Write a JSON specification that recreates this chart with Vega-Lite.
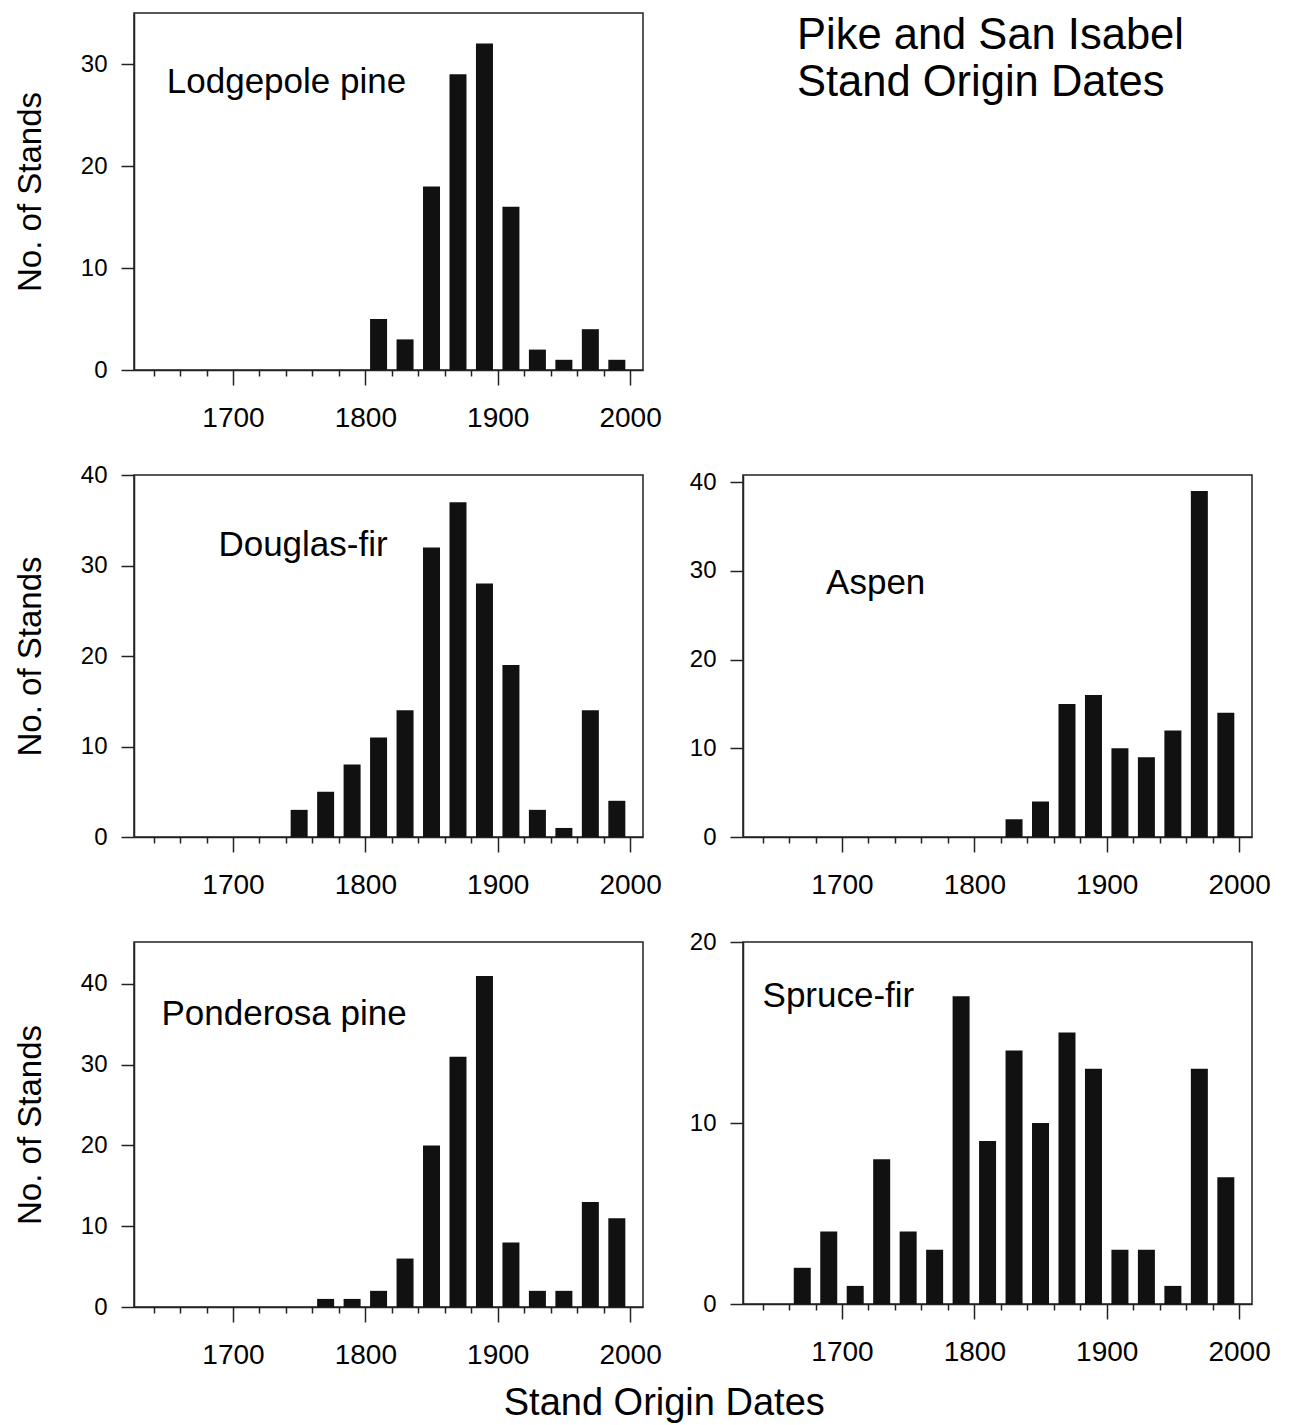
{
  "$schema": "https://vega.github.io/schema/vega-lite/v6.json",
  "background": "white",
  "padding": {"top": 12, "left": 13, "right": 10, "bottom": 5},
  "title": {"text": "Stand Origin Dates", "orient": "bottom", "anchor": "middle", "fontSize": 38, "fontWeight": "normal", "offset": 15, "dx": 22, "color": "black", "font": "Liberation Sans"},
  "datasets": {
    "stands": [
      {"species": "Lodgepole pine", "year": 1810, "count": 5},
      {"species": "Lodgepole pine", "year": 1830, "count": 3},
      {"species": "Lodgepole pine", "year": 1850, "count": 18},
      {"species": "Lodgepole pine", "year": 1870, "count": 29},
      {"species": "Lodgepole pine", "year": 1890, "count": 32},
      {"species": "Lodgepole pine", "year": 1910, "count": 16},
      {"species": "Lodgepole pine", "year": 1930, "count": 2},
      {"species": "Lodgepole pine", "year": 1950, "count": 1},
      {"species": "Lodgepole pine", "year": 1970, "count": 4},
      {"species": "Lodgepole pine", "year": 1990, "count": 1},
      {"species": "Douglas-fir", "year": 1750, "count": 3},
      {"species": "Douglas-fir", "year": 1770, "count": 5},
      {"species": "Douglas-fir", "year": 1790, "count": 8},
      {"species": "Douglas-fir", "year": 1810, "count": 11},
      {"species": "Douglas-fir", "year": 1830, "count": 14},
      {"species": "Douglas-fir", "year": 1850, "count": 32},
      {"species": "Douglas-fir", "year": 1870, "count": 37},
      {"species": "Douglas-fir", "year": 1890, "count": 28},
      {"species": "Douglas-fir", "year": 1910, "count": 19},
      {"species": "Douglas-fir", "year": 1930, "count": 3},
      {"species": "Douglas-fir", "year": 1950, "count": 1},
      {"species": "Douglas-fir", "year": 1970, "count": 14},
      {"species": "Douglas-fir", "year": 1990, "count": 4},
      {"species": "Aspen", "year": 1830, "count": 2},
      {"species": "Aspen", "year": 1850, "count": 4},
      {"species": "Aspen", "year": 1870, "count": 15},
      {"species": "Aspen", "year": 1890, "count": 16},
      {"species": "Aspen", "year": 1910, "count": 10},
      {"species": "Aspen", "year": 1930, "count": 9},
      {"species": "Aspen", "year": 1950, "count": 12},
      {"species": "Aspen", "year": 1970, "count": 39},
      {"species": "Aspen", "year": 1990, "count": 14},
      {"species": "Ponderosa pine", "year": 1770, "count": 1},
      {"species": "Ponderosa pine", "year": 1790, "count": 1},
      {"species": "Ponderosa pine", "year": 1810, "count": 2},
      {"species": "Ponderosa pine", "year": 1830, "count": 6},
      {"species": "Ponderosa pine", "year": 1850, "count": 20},
      {"species": "Ponderosa pine", "year": 1870, "count": 31},
      {"species": "Ponderosa pine", "year": 1890, "count": 41},
      {"species": "Ponderosa pine", "year": 1910, "count": 8},
      {"species": "Ponderosa pine", "year": 1930, "count": 2},
      {"species": "Ponderosa pine", "year": 1950, "count": 2},
      {"species": "Ponderosa pine", "year": 1970, "count": 13},
      {"species": "Ponderosa pine", "year": 1990, "count": 11},
      {"species": "Spruce-fir", "year": 1670, "count": 2},
      {"species": "Spruce-fir", "year": 1690, "count": 4},
      {"species": "Spruce-fir", "year": 1710, "count": 1},
      {"species": "Spruce-fir", "year": 1730, "count": 8},
      {"species": "Spruce-fir", "year": 1750, "count": 4},
      {"species": "Spruce-fir", "year": 1770, "count": 3},
      {"species": "Spruce-fir", "year": 1790, "count": 17},
      {"species": "Spruce-fir", "year": 1810, "count": 9},
      {"species": "Spruce-fir", "year": 1830, "count": 14},
      {"species": "Spruce-fir", "year": 1850, "count": 10},
      {"species": "Spruce-fir", "year": 1870, "count": 15},
      {"species": "Spruce-fir", "year": 1890, "count": 13},
      {"species": "Spruce-fir", "year": 1910, "count": 3},
      {"species": "Spruce-fir", "year": 1930, "count": 3},
      {"species": "Spruce-fir", "year": 1950, "count": 1},
      {"species": "Spruce-fir", "year": 1970, "count": 13},
      {"species": "Spruce-fir", "year": 1990, "count": 7}
    ]
  },
  "columns": 2,
  "bounds": "flush",
  "spacing": {"row": 105, "column": 100},
  "concat": [
    {
      "width": 509, "height": 357,
      "layer": [
        {
          "data": {"name": "stands"},
          "transform": [{"filter": "datum.species === 'Lodgepole pine'"}],
          "mark": {"type": "bar", "orient": "vertical", "width": 17, "color": "#111111"},
          "encoding": {
            "x": {"field": "year", "type": "quantitative", "scale": {"domain": [1629, 2006], "nice": false, "zero": false},
              "axis": {"values": [1640,1660,1680,1700,1720,1740,1760,1780,1800,1820,1840,1860,1880,1900,1920,1940,1960,1980,2000], "format": "d", "labelExpr": "datum.value % 100 === 0 ? datum.label : ''", "tickSize": {"condition": {"test": "datum.value % 100 === 0", "value": 15}, "value": 6}, "labelPadding": 19, "labelFontSize": 28, "labelOverlap": false, "labelFlush": false, "title": null}},
            "y": {"field": "count", "type": "quantitative", "scale": {"domain": [0, 35], "nice": false},
              "axis": {"values": [0, 10, 20, 30], "title": "No. of Stands"}}
          }
        },
        {
          "data": {"values": [{"label": "Lodgepole pine"}]},
          "mark": {"type": "text", "align": "left", "baseline": "alphabetic", "fontSize": 35, "font": "Liberation Sans", "color": "black"},
          "encoding": {
            "x": {"datum": 1650, "type": "quantitative",
              "axis": {"values": [1640,1660,1680,1700,1720,1740,1760,1780,1800,1820,1840,1860,1880,1900,1920,1940,1960,1980,2000], "format": "d", "labelExpr": "datum.value % 100 === 0 ? datum.label : ''", "tickSize": {"condition": {"test": "datum.value % 100 === 0", "value": 15}, "value": 6}, "labelPadding": 19, "labelFontSize": 28, "labelOverlap": false, "labelFlush": false, "title": null}},
            "y": {"datum": 27.2, "type": "quantitative"},
            "text": {"field": "label"}}
        }
      ]
    },
    {
      "width": 509, "height": 357,
      "view": {"stroke": null},
      "title": {"text": ["Pike and San Isabel", "Stand Origin Dates"], "anchor": "start", "frame": "group", "orient": "top", "offset": -92, "dx": 54, "fontSize": 43.5, "fontWeight": "normal", "lineHeight": 47, "color": "black", "font": "Liberation Sans"},
      "data": {"values": []},
      "mark": "point",
      "encoding": {}
    },
    {
      "width": 509, "height": 362,
      "layer": [
        {
          "data": {"name": "stands"},
          "transform": [{"filter": "datum.species === 'Douglas-fir'"}],
          "mark": {"type": "bar", "orient": "vertical", "width": 17, "color": "#111111"},
          "encoding": {
            "x": {"field": "year", "type": "quantitative", "scale": {"domain": [1629, 2006], "nice": false, "zero": false},
              "axis": {"values": [1640,1660,1680,1700,1720,1740,1760,1780,1800,1820,1840,1860,1880,1900,1920,1940,1960,1980,2000], "format": "d", "labelExpr": "datum.value % 100 === 0 ? datum.label : ''", "tickSize": {"condition": {"test": "datum.value % 100 === 0", "value": 15}, "value": 6}, "labelPadding": 19, "labelFontSize": 28, "labelOverlap": false, "labelFlush": false, "title": null}},
            "y": {"field": "count", "type": "quantitative", "scale": {"domain": [0, 40], "nice": false},
              "axis": {"values": [0, 10, 20, 30, 40], "title": "No. of Stands"}}
          }
        },
        {
          "data": {"values": [{"label": "Douglas-fir"}]},
          "mark": {"type": "text", "align": "left", "baseline": "alphabetic", "fontSize": 35, "font": "Liberation Sans", "color": "black"},
          "encoding": {
            "x": {"datum": 1689, "type": "quantitative",
              "axis": {"values": [1640,1660,1680,1700,1720,1740,1760,1780,1800,1820,1840,1860,1880,1900,1920,1940,1960,1980,2000], "format": "d", "labelExpr": "datum.value % 100 === 0 ? datum.label : ''", "tickSize": {"condition": {"test": "datum.value % 100 === 0", "value": 15}, "value": 6}, "labelPadding": 19, "labelFontSize": 28, "labelOverlap": false, "labelFlush": false, "title": null}},
            "y": {"datum": 31, "type": "quantitative"},
            "text": {"field": "label"}}
        }
      ]
    },
    {
      "width": 509, "height": 362,
      "layer": [
        {
          "data": {"name": "stands"},
          "transform": [{"filter": "datum.species === 'Aspen'"}],
          "mark": {"type": "bar", "orient": "vertical", "width": 17, "color": "#111111"},
          "encoding": {
            "x": {"field": "year", "type": "quantitative", "scale": {"domain": [1629, 2006], "nice": false, "zero": false},
              "axis": {"values": [1640,1660,1680,1700,1720,1740,1760,1780,1800,1820,1840,1860,1880,1900,1920,1940,1960,1980,2000], "format": "d", "labelExpr": "datum.value % 100 === 0 ? datum.label : ''", "tickSize": {"condition": {"test": "datum.value % 100 === 0", "value": 15}, "value": 6}, "labelPadding": 19, "labelFontSize": 28, "labelOverlap": false, "labelFlush": false, "title": null}},
            "y": {"field": "count", "type": "quantitative", "scale": {"domain": [0, 40.8], "nice": false},
              "axis": {"values": [0, 10, 20, 30, 40], "title": null}}
          }
        },
        {
          "data": {"values": [{"label": "Aspen"}]},
          "mark": {"type": "text", "align": "left", "baseline": "alphabetic", "fontSize": 35, "font": "Liberation Sans", "color": "black"},
          "encoding": {
            "x": {"datum": 1688, "type": "quantitative",
              "axis": {"values": [1640,1660,1680,1700,1720,1740,1760,1780,1800,1820,1840,1860,1880,1900,1920,1940,1960,1980,2000], "format": "d", "labelExpr": "datum.value % 100 === 0 ? datum.label : ''", "tickSize": {"condition": {"test": "datum.value % 100 === 0", "value": 15}, "value": 6}, "labelPadding": 19, "labelFontSize": 28, "labelOverlap": false, "labelFlush": false, "title": null}},
            "y": {"datum": 27.4, "type": "quantitative"},
            "text": {"field": "label"}}
        }
      ]
    },
    {
      "width": 509, "height": 365,
      "layer": [
        {
          "data": {"name": "stands"},
          "transform": [{"filter": "datum.species === 'Ponderosa pine'"}],
          "mark": {"type": "bar", "orient": "vertical", "width": 17, "color": "#111111"},
          "encoding": {
            "x": {"field": "year", "type": "quantitative", "scale": {"domain": [1629, 2006], "nice": false, "zero": false},
              "axis": {"values": [1640,1660,1680,1700,1720,1740,1760,1780,1800,1820,1840,1860,1880,1900,1920,1940,1960,1980,2000], "format": "d", "labelExpr": "datum.value % 100 === 0 ? datum.label : ''", "tickSize": {"condition": {"test": "datum.value % 100 === 0", "value": 15}, "value": 6}, "labelPadding": 19, "labelFontSize": 28, "labelOverlap": false, "labelFlush": false, "title": null}},
            "y": {"field": "count", "type": "quantitative", "scale": {"domain": [0, 45.2], "nice": false},
              "axis": {"values": [0, 10, 20, 30, 40], "title": "No. of Stands"}}
          }
        },
        {
          "data": {"values": [{"label": "Ponderosa pine"}]},
          "mark": {"type": "text", "align": "left", "baseline": "alphabetic", "fontSize": 35, "font": "Liberation Sans", "color": "black"},
          "encoding": {
            "x": {"datum": 1646, "type": "quantitative",
              "axis": {"values": [1640,1660,1680,1700,1720,1740,1760,1780,1800,1820,1840,1860,1880,1900,1920,1940,1960,1980,2000], "format": "d", "labelExpr": "datum.value % 100 === 0 ? datum.label : ''", "tickSize": {"condition": {"test": "datum.value % 100 === 0", "value": 15}, "value": 6}, "labelPadding": 19, "labelFontSize": 28, "labelOverlap": false, "labelFlush": false, "title": null}},
            "y": {"datum": 34.9, "type": "quantitative"},
            "text": {"field": "label"}}
        }
      ]
    },
    {
      "width": 509, "height": 362,
      "layer": [
        {
          "data": {"name": "stands"},
          "transform": [{"filter": "datum.species === 'Spruce-fir'"}],
          "mark": {"type": "bar", "orient": "vertical", "width": 17, "color": "#111111"},
          "encoding": {
            "x": {"field": "year", "type": "quantitative", "scale": {"domain": [1629, 2006], "nice": false, "zero": false},
              "axis": {"values": [1640,1660,1680,1700,1720,1740,1760,1780,1800,1820,1840,1860,1880,1900,1920,1940,1960,1980,2000], "format": "d", "labelExpr": "datum.value % 100 === 0 ? datum.label : ''", "tickSize": {"condition": {"test": "datum.value % 100 === 0", "value": 15}, "value": 6}, "labelPadding": 19, "labelFontSize": 28, "labelOverlap": false, "labelFlush": false, "title": null}},
            "y": {"field": "count", "type": "quantitative", "scale": {"domain": [0, 20], "nice": false},
              "axis": {"values": [0, 10, 20], "title": null}}
          }
        },
        {
          "data": {"values": [{"label": "Spruce-fir"}]},
          "mark": {"type": "text", "align": "left", "baseline": "alphabetic", "fontSize": 35, "font": "Liberation Sans", "color": "black"},
          "encoding": {
            "x": {"datum": 1640, "type": "quantitative",
              "axis": {"values": [1640,1660,1680,1700,1720,1740,1760,1780,1800,1820,1840,1860,1880,1900,1920,1940,1960,1980,2000], "format": "d", "labelExpr": "datum.value % 100 === 0 ? datum.label : ''", "tickSize": {"condition": {"test": "datum.value % 100 === 0", "value": 15}, "value": 6}, "labelPadding": 19, "labelFontSize": 28, "labelOverlap": false, "labelFlush": false, "title": null}},
            "y": {"datum": 16.4, "type": "quantitative"},
            "text": {"field": "label"}}
        }
      ]
    }
  ],
  "config": {
    "font": "Liberation Sans",
    "view": {"stroke": "#222222", "strokeWidth": 1.5},
    "axis": {"grid": false, "domainColor": "#222222", "domainWidth": 1.5, "tickColor": "#222222", "tickWidth": 1.5, "labelColor": "black", "labelFont": "Liberation Sans", "titleColor": "black", "titleFont": "Liberation Sans", "titleFontWeight": "normal"},
    "axisX": {"labelOverlap": false},
    "axisY": {"tickSize": 13, "labelFontSize": 24, "labelPadding": 14, "titleFontSize": 33, "titlePadding": 33},
    "title": {"font": "Liberation Sans", "color": "black"}
  }
}
